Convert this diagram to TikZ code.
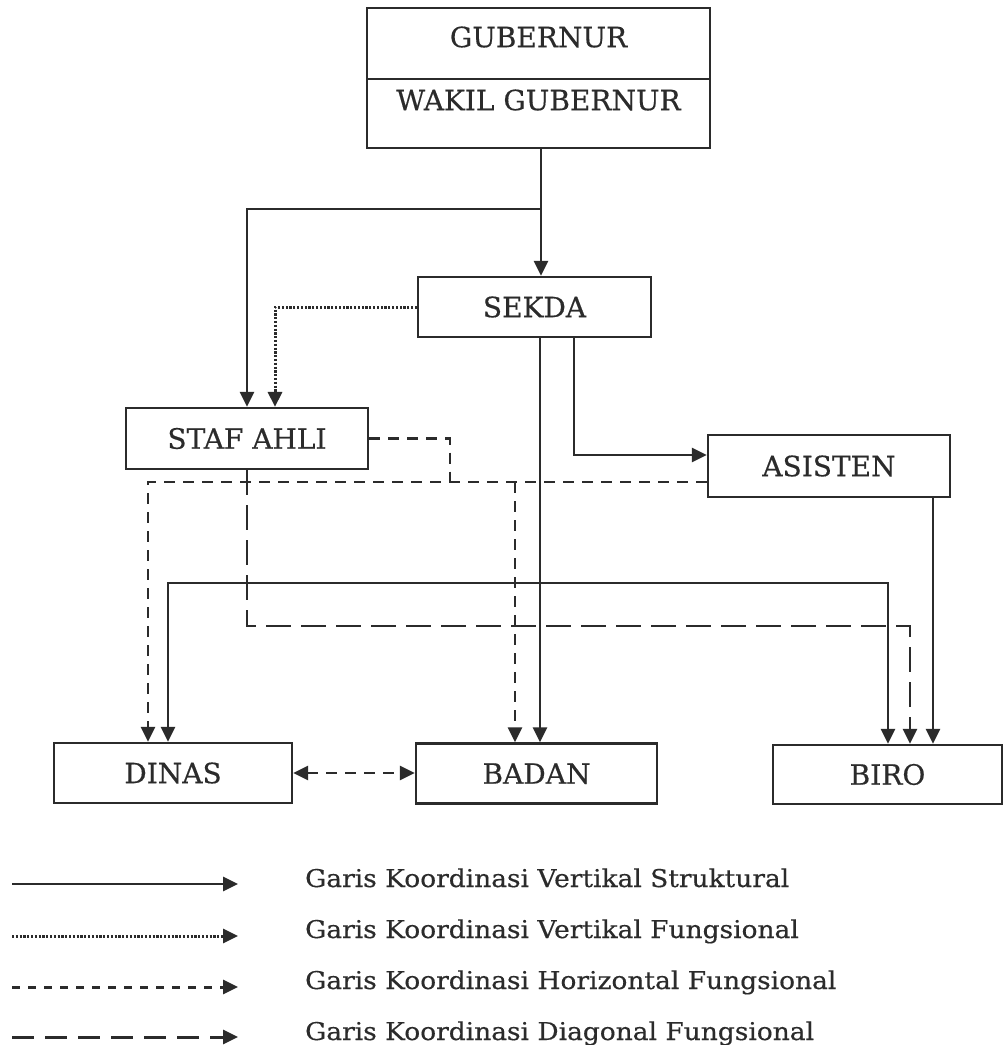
\documentclass[tikz,border=0pt]{standalone}
\usepackage{fontspec}
\setmainfont{DejaVu Serif}[FakeBold=0.4]
\newfontfamily\legfont{DejaVu Serif}[FakeStretch=1.08,FakeBold=0.4]
\usetikzlibrary{arrows.meta}
\definecolor{ink}{HTML}{2B2B2B}
\tikzset{
  orgbox/.style={draw=ink, line width=2.2pt, inner sep=0pt, text=ink,
    font=\fontsize{28}{30}\selectfont, text height=20.4pt, text depth=0pt},
  tip/.style={-{Triangle[length=15pt,width=14pt]}},
  struct/.style={draw=ink, line width=2.8pt, tip},
  vfung/.style={draw=ink, line width=3pt, dash pattern=on 2.2pt off 1.6pt, tip},
  hfung/.style={draw=ink, line width=2.8pt, dash pattern=on 11pt off 8pt},
  dfung/.style={draw=ink, line width=2.8pt, dash pattern=on 25pt off 10pt},
  legtext/.style={anchor=base west, inner sep=0pt, text=ink, font=\legfont\fontsize{24.5}{26}\selectfont},
}
\begin{document}
\begin{tikzpicture}[x=1pt,y=-1pt]
\useasboundingbox[fill=white] (0,0) rectangle (1005,1045);

% boxes
\node[orgbox, minimum width=343pt, minimum height=71pt, text depth=13pt] (gub) at (538.5,43.5) {GUBERNUR};
\node[orgbox, minimum width=343pt, minimum height=69pt, text depth=27pt] (wagub) at (538.5,113.5) {WAKIL GUBERNUR};
\node[orgbox, minimum width=233pt, minimum height=60pt] (sekda) at (534.5,307) {SEKDA};
\node[orgbox, minimum width=242pt, minimum height=61pt] (staf) at (247,438.5) {STAF AHLI};
\node[orgbox, minimum width=242pt, minimum height=62pt] (asisten) at (829,466) {ASISTEN};
\node[orgbox, minimum width=238pt, minimum height=60pt] (dinas) at (173,773) {DINAS};
\node[orgbox, minimum width=241pt, minimum height=60pt] (badan) at (536.5,773.5) {BADAN};
\node[orgbox, minimum width=229pt, minimum height=59pt] (biro) at (887.5,774.5) {BIRO};

% helper coordinates
\coordinate (c1) at (541,209);
\coordinate (d1) at (275,307);
\coordinate (c2) at (540,583);
\coordinate (dA) at (168,583);
\coordinate (bA) at (888,583);
\coordinate (c3) at (574,455);
\coordinate (c4) at (933,600);
\coordinate (h1) at (450,482);
\coordinate (h2) at (148,482);
\coordinate (h3) at (515,482);
\coordinate (g1) at (247,626);
\coordinate (g2) at (910,626);

% structural (solid)
\draw[struct] (wagub.south -| c1) -- (sekda.north -| c1);
\draw[struct] (c1) -| (staf.north);
\draw[struct] (sekda.south -| c2) -- (badan.north -| c2);
\draw[struct] (c2) -- (dA) -- (dinas.north -| dA);
\draw[struct] (c2) -- (bA) -- (biro.north -| bA);
\draw[struct] (sekda.south -| c3) -- (c3) -- (asisten.west |- c3);
\draw[struct] (asisten.south -| c4) -- (biro.north -| c4);

% vertical functional (dotted)
\draw[vfung] (sekda.west) -- (d1) -- (d1 |- staf.north);

% horizontal functional (short dashes)
\draw[hfung] (staf.east) -| (h1);
\draw[hfung, tip] (asisten.west |- h2) -- (h2) -- (dinas.north -| h2);
\draw[hfung, tip] (h3) -- (badan.north -| h3);
\draw[hfung, {Triangle[length=15pt,width=14pt]}-{Triangle[length=15pt,width=14pt]}] (dinas.east) -- (badan.west |- dinas.east);

% diagonal functional (long dashes)
\draw[dfung, tip] (staf.south) -- (g1) -- (g2) -- (biro.north -| g2);

% legend
\coordinate (l1a) at (12,884);   \coordinate (l1b) at (238,884);
\coordinate (l2a) at (12,936);   \coordinate (l2b) at (238,936);
\coordinate (l3a) at (12,987);   \coordinate (l3b) at (238,987);
\coordinate (l4a) at (12,1037);  \coordinate (l4b) at (238,1037);
\draw[struct] (l1a) -- (l1b);
\draw[vfung] (l2a) -- (l2b);
\draw[draw=ink, line width=3pt, dash pattern=on 8pt off 8pt, tip] (l3a) -- (l3b);
\draw[draw=ink, line width=3pt, dash pattern=on 22pt off 11pt, tip] (l4a) -- (l4b);
\node[legtext] (t1) at (305,887) {Garis Koordinasi Vertikal Struktural};
\node[legtext] (t2) at (305,938) {Garis Koordinasi Vertikal Fungsional};
\node[legtext] (t3) at (305,989) {Garis Koordinasi Horizontal Fungsional};
\node[legtext] (t4) at (305,1040) {Garis Koordinasi Diagonal Fungsional};
\end{tikzpicture}
\end{document}
